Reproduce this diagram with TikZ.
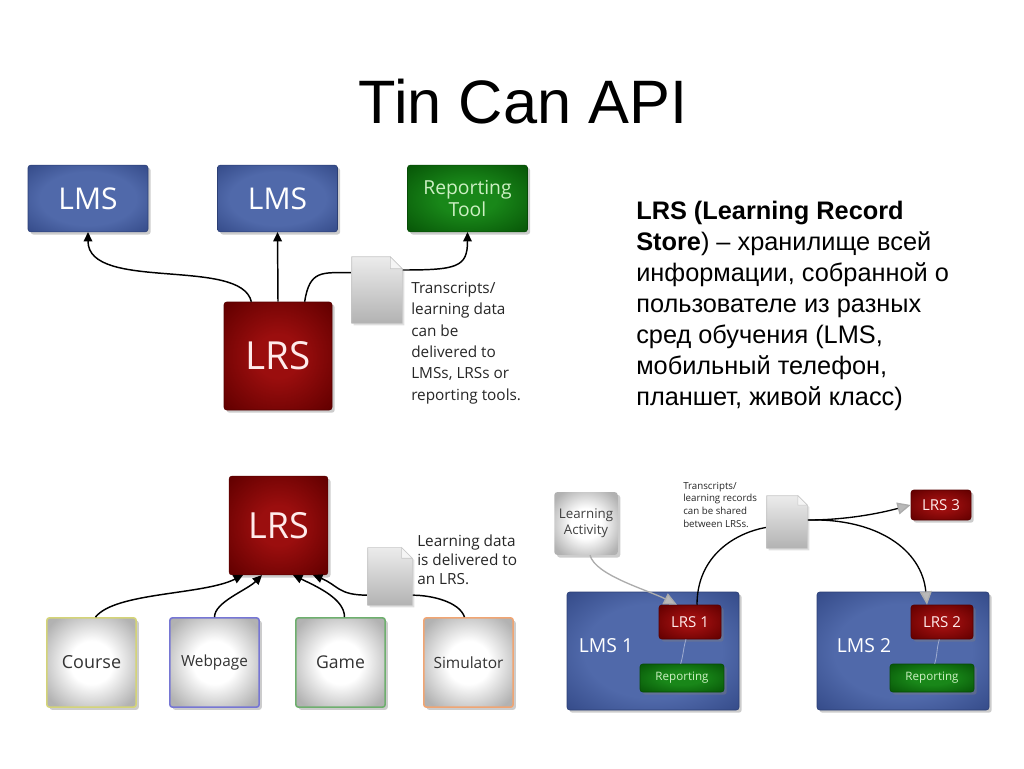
\documentclass[tikz,border=0pt]{standalone}
\usepackage{fontspec}
\setmainfont{Liberation Sans}
\newfontfamily\diagfont{Open Sans}
\usetikzlibrary{arrows.meta,shadows}
\definecolor{lmsin}{RGB}{80,105,170}
\definecolor{lmsout}{RGB}{52,74,136}
\definecolor{lrsin}{RGB}{155,14,14}
\definecolor{lrsout}{RGB}{100,0,0}
\definecolor{repin}{RGB}{25,135,25}
\definecolor{repout}{RGB}{8,88,8}
\definecolor{reptext}{RGB}{205,240,195}
\definecolor{cyel}{RGB}{212,212,120}
\definecolor{cblue}{RGB}{118,118,212}
\definecolor{cgreen}{RGB}{110,175,110}
\definecolor{corange}{RGB}{240,165,115}
\pgfdeclareradialshading{lmsglow}{\pgfpoint{0bp}{0bp}}{color(0bp)=(lmsin); color(20bp)=(lmsin); color(36bp)=(lmsout); color(50bp)=(lmsout)}
\pgfdeclareradialshading{lrsglow}{\pgfpoint{0bp}{0bp}}{color(0bp)=(lrsin); color(10bp)=(lrsin); color(34bp)=(lrsout); color(50bp)=(lrsout)}
\pgfdeclareradialshading{repglow}{\pgfpoint{0bp}{0bp}}{color(0bp)=(repin); color(12bp)=(repin); color(34bp)=(repout); color(50bp)=(repout)}
\pgfdeclareradialshading{vignette}{\pgfpoint{0bp}{0bp}}{color(0bp)=(white); color(12bp)=(white); color(31bp)=(gray!60); color(50bp)=(gray!70)}
\newcommand\dsize[2]{\diagfont\fontsize{#1}{#2}\selectfont}
\newcommand\docsheet[2]{%
  \shade[top color=gray!15, bottom color=gray!60, draw=gray!45, line width=0.4pt,
    drop shadow={opacity=.25,shadow xshift=1.5pt,shadow yshift=-1.5pt}]
    (#1.south west) -- (#1.north west) -- ([xshift=-#2]#1.north east)
    -- ([yshift=-#2]#1.north east) -- (#1.south east) -- cycle;
  \fill[gray!8, draw=gray!45, line width=0.4pt] ([xshift=-#2]#1.north east)
    -- ([xshift=-#2,yshift=-#2]#1.north east) -- ([yshift=-#2]#1.north east) -- cycle;}
\tikzset{
  box/.style={rectangle, rounded corners=2pt,
    drop shadow={shadow xshift=2pt,shadow yshift=-2pt,opacity=.4}},
  lmsbox/.style={box, shading=lmsglow, draw=lmsout!85!black, text=white},
  lrsbox/.style={box, shading=lrsglow, draw=lrsout!85!black, text=white!92!red},
  repbox/.style={box, shading=repglow, draw=repout!85!black, text=reptext},
  srcbox/.style={box, shading=vignette, text=black!80, line width=1.2pt,
    minimum width=67pt, minimum height=67pt},
  docnode/.style={inner sep=0pt},
  note/.style={align=left, anchor=north west, inner sep=0pt, text=black!85},
  link/.style={line width=1.1pt, -{Triangle[length=7pt,width=6.5pt]}},
  glink/.style={line width=1pt, -{Triangle[length=10pt,width=9pt,color=gray!65,fill=gray!55]}},
}
\begin{document}
\begin{tikzpicture}[x=0.75pt,y=-0.75pt]
\useasboundingbox (0,0) rectangle (1024,768);
\node[font=\fontsize{46}{50}\selectfont] (title) at (523,102) {Tin Can API};
\node[anchor=north west, inner sep=0pt, align=left, font=\fontsize{19}{23.25}\selectfont] (lrsinfo) at (636,201)
  {\textbf{LRS (Learning Record}\\ \textbf{Store}) – хранилище всей\\ информации, собранной о\\
   пользователе из разных\\ сред обучения (LMS,\\ мобильный телефон,\\ планшет, живой класс)};

\node[lmsbox, minimum width=90pt, minimum height=50pt, font=\dsize{22.5}{26}] (lmsA) at (88,198.5) {LMS};
\node[lmsbox, minimum width=90pt, minimum height=50pt, font=\dsize{22.5}{26}] (lmsB) at (277.5,198.5) {LMS};
\node[repbox, minimum width=90pt, minimum height=50pt, align=center, font=\dsize{14.5}{17}] (tool) at (467.5,198.5) {Reporting\\Tool};
\node[lrsbox, minimum size=81pt, font=\dsize{29}{32}] (lrsA) at (278,356) {LRS};
\node[docnode, minimum width=37.5pt, minimum height=49.5pt] (docA) at (377,290) {};
\node[note, font=\dsize{11.5}{16}] (noteA) at (411,282) {Transcripts/\\learning data\\can be\\delivered to\\LMSs, LRSs or\\reporting tools.};
\draw[link] ([xshift=-20pt]lrsA.north) .. controls +(-10,-45) and +(0,60) .. (lmsA.south);
\draw[link] (lrsA.north) -- (lmsB.south);
\draw[link] ([xshift=20pt]lrsA.north) .. controls +(5,-32) and +(-30,0) .. ([yshift=13pt]docA.west)
  -- ([yshift=15pt]docA.east) .. controls +(55,0) and +(0,35) .. (tool.south);
\docsheet{docA}{9pt}

\node[lrsbox, minimum size=74pt, font=\dsize{27}{30}] (lrsB) at (278.5,525.5) {LRS};
\node[srcbox, draw=cyel, font=\dsize{13.5}{16}] (course) at (91.5,662.5) {Course};
\node[srcbox, draw=cblue, font=\dsize{11.5}{14}] (webpage) at (214.5,662.5) {Webpage};
\node[srcbox, draw=cgreen, font=\dsize{13.2}{16}] (game) at (340.5,662.5) {Game};
\node[srcbox, draw=corange, font=\dsize{11.6}{14}] (sim) at (468.5,662.5) {Simulator};
\node[docnode, minimum width=33pt, minimum height=43pt] (docB) at (390,576.5) {};
\node[note, font=\dsize{11.5}{14}] (noteB) at (417,535) {Learning data\\is delivered to\\an LRS.};
\draw[link] ([xshift=3pt]course.north) .. controls +(20,-25) and +(-40,20) .. ([xshift=-26.6pt]lrsB.south);
\draw[link] (webpage.north) .. controls +(0,-15) and +(-15,15) .. ([xshift=-12.4pt]lrsB.south);
\draw[link] ([xshift=3pt]game.north) .. controls +(0,-18) and +(25,12) .. ([xshift=10.9pt]lrsB.south);
\draw[link] ([xshift=-3pt]sim.north) .. controls +(-5,-15) and +(20,0) .. ([yshift=-14pt]docB.east)
  -- ([yshift=-14pt]docB.west) .. controls +(-30,0) and +(25,10) .. ([xshift=25.9pt]lrsB.south);
\docsheet{docB}{8pt}

\node[box, shading=vignette, minimum width=46.5pt, minimum height=47pt,
  align=center, text=black!75, font=\dsize{10}{12}] (act) at (586,523.5) {Learning\\Activity};
\node[note, font=\dsize{7.3}{9.4}] (noteC) at (683,482) {Transcripts/\\learning records\\can be shared\\between LRSs.};
\node[docnode, minimum width=30pt, minimum height=39pt] (docC) at (787,522) {};
\node[lrsbox, minimum width=45pt, minimum height=22.5pt, font=\dsize{11.3}{13}] (lrsthree) at (941,505) {LRS 3};
\node[lmsbox, minimum width=129pt, minimum height=88.5pt] (lmsone) at (653,651) {};
\node[text=white, font=\dsize{14.5}{16}] (lmsonelabel) at (606,646) {LMS 1};
\node[lrsbox, minimum width=46.5pt, minimum height=25.5pt, font=\dsize{11.3}{13}] (lrsone) at (690,622) {LRS 1};
\node[repbox, minimum width=63pt, minimum height=21pt, font=\dsize{8.7}{10}] (repone) at (682,678) {Reporting};
\node[lmsbox, minimum width=129pt, minimum height=88.5pt] (lmstwo) at (903,651) {};
\node[text=white, font=\dsize{14.5}{16}] (lmstwolabel) at (864,646) {LMS 2};
\node[lrsbox, minimum width=46.5pt, minimum height=25.5pt, font=\dsize{11.3}{13}] (lrstwo) at (942,622) {LRS 2};
\node[repbox, minimum width=63pt, minimum height=21pt, font=\dsize{8.7}{10}] (reptwo) at (932,678) {Reporting};
\draw[lmsin!55!white, line width=0.6pt] ([xshift=-3pt]lrsone.south) .. controls +(-3,10) and +(3,-10) .. ([xshift=-1pt]repone.north);
\draw[lmsin!55!white, line width=0.6pt] ([xshift=-2pt]lrstwo.south) .. controls +(-3,10) and +(3,-10) .. ([xshift=2pt]reptwo.north);
\draw[glink, draw=gray!65] ([xshift=3pt]act.south) .. controls +(5,20) and +(-30,-15) .. ([xshift=-9.75pt]lrsone.north);
\draw[line width=1pt] ([xshift=5.25pt]lrsone.north) .. controls +(0,-50) and +(-30,5) .. ([yshift=-4pt]docC.west);
\draw[glink] ([yshift=1.5pt]docC.east) .. controls +(40,0) and +(-30,8) .. (lrsthree.west);
\draw[glink] ([yshift=1.5pt]docC.east) .. controls +(70,-2) and +(-5,-55) .. ([xshift=-11.25pt]lrstwo.north);
\docsheet{docC}{7pt}
\end{tikzpicture}
\end{document}
